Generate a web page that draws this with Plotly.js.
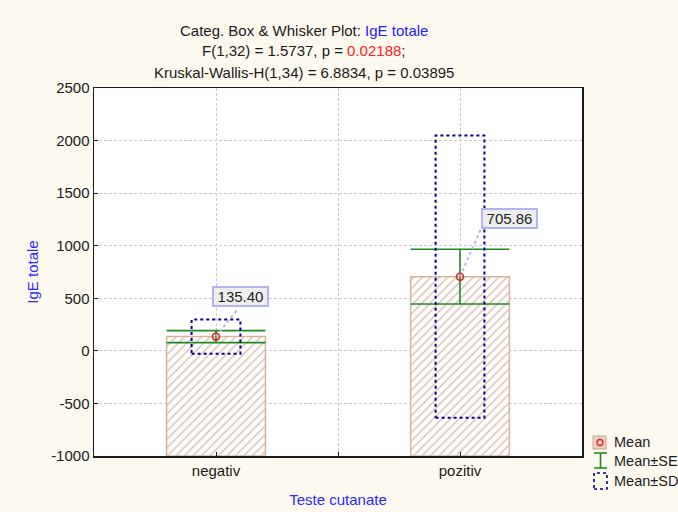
<!DOCTYPE html>
<html><head><meta charset="utf-8">
<script src="https://cdn.plot.ly/plotly-3.0.1.min.js"></script>
<style>html,body{margin:0;padding:0;background:#FEF9EF;}</style>
</head><body><div id="chart" style="width:678px;height:512px;"></div>
<script>
// ---- data ----
const categories = ['negativ', 'pozitiv'];
const catPositions = [0, 1];
const means = [135.40, 705.86];
const seValues = [57, 260];
const sdValues = [162, 1342];
const barBase = -1000;
const yTickValues = [-1000, -500, 0, 500, 1000, 1500, 2000, 2500];
const yTickText = ['-1000', '-500', '0', '500', '1000', '1500', '2000', '2500'];
const xTickValues = [0, 0.5, 1];
const xTickText = ['negativ', '', 'pozitiv'];
const titleLine1 = 'Categ. Box &amp; Whisker Plot: <span style="color:#2222FF">IgE totale</span>';
const titleLine2 = 'F(1,32) = 1.5737, p = <span style="color:#FF2020">0.02188</span>;';
const titleLine3 = 'Kruskal-Wallis-H(1,34) = 6.8834, p = 0.03895';
const yTitle = 'IgE totale';
const xTitle = 'Teste cutanate';
const legendNames = ['Mean', 'Mean±SE', 'Mean±SD'];

// ---- style / layout constants ----
const W = 678, H = 512;
const M = {l: 94, r: 96, t: 88, b: 56};
const plotW = W - M.l - M.r, plotH = H - M.t - M.b;
const xRange = [-0.5, 1.5];
const barWidth = 0.405;
const sdBoxHalf = 0.1;
const FONT = 'Liberation Sans, Arial, sans-serif';
const px2x = p => (p - M.l) / plotW;
const py2y = p => (H - M.b - p) / plotH;
const labelShift = [[24.5, 40], [49, 58]];
const connectorEnd = [[22, 28], [21, 48]];

const traces = [];
// bars from base to mean
traces.push({
  type: 'bar', x: catPositions, y: means.map(m => m - barBase), base: barBase,
  width: barWidth, showlegend: false, hoverinfo: 'skip',
  marker: {color: '#FFFFFF', line: {color: '#D6B49E', width: 1.5},
    pattern: {shape: '/', fgcolor: '#DBBBA8', bgcolor: '#FFFFFF', size: 6, solidity: 0.22}}
});
// Mean ± SE
const errHalfPx = barWidth / 2 * plotW / (xRange[1] - xRange[0]);
traces.push({
  type: 'scatter', mode: 'markers', x: catPositions, y: means, showlegend: false, hoverinfo: 'skip',
  marker: {size: 1, color: 'rgba(0,0,0,0)'},
  error_y: {type: 'data', array: seValues, visible: true, color: '#1E8C1E', thickness: 1.6, width: errHalfPx}
});
// Mean ± SD boxes
const sdX = [], sdY = [];
catPositions.forEach((c, i) => {
  const lo = means[i] - sdValues[i], hi = means[i] + sdValues[i];
  sdX.push(c - sdBoxHalf, c + sdBoxHalf, c + sdBoxHalf, c - sdBoxHalf, c - sdBoxHalf, null);
  sdY.push(lo, lo, hi, hi, lo, null);
});
traces.push({
  type: 'scatter', mode: 'lines', x: sdX, y: sdY, showlegend: false, hoverinfo: 'skip',
  line: {color: '#00008B', width: 2, dash: 'dot'}
});
// means
traces.push({
  type: 'scatter', mode: 'markers', x: catPositions, y: means, showlegend: false, hoverinfo: 'skip',
  marker: {symbol: 'circle-open', size: 7, color: '#E02020', line: {width: 1.5}}
});

const annotations = [];
const shapes = [];
// value labels + dotted connectors
catPositions.forEach((c, i) => {
  annotations.push({
    x: c, y: means[i], xref: 'x', yref: 'y', showarrow: false,
    xshift: labelShift[i][0], yshift: labelShift[i][1],
    text: means[i].toFixed(2), font: {family: FONT, size: 15, color: '#222'},
    bgcolor: '#EEEEEE', bordercolor: '#B4B4F2', borderwidth: 2, borderpad: 1,
    width: 51, height: 15
  });
  shapes.push({
    type: 'line', xref: 'x', yref: 'y', xsizemode: 'pixel', ysizemode: 'pixel',
    xanchor: c, yanchor: means[i], x0: 0, y0: 0, x1: connectorEnd[i][0], y1: connectorEnd[i][1],
    line: {color: '#B4B4F2', width: 2, dash: 'dot'}, layer: 'above'
  });
});
// title lines
[[titleLine1, 30.5], [titleLine2, 51], [titleLine3, 72]].forEach(([t, py]) => {
  annotations.push({xref: 'paper', yref: 'paper', x: px2x(304), y: py2y(py), xanchor: 'center', yanchor: 'middle',
    showarrow: false, text: t, font: {family: FONT, size: 15, color: '#1a1a1a'}});
});
// custom legend
shapes.push({type: 'rect', xref: 'paper', yref: 'paper', x0: px2x(593), x1: px2x(606), y0: py2y(449), y1: py2y(436),
  fillcolor: '#E9D3C5', line: {color: '#C9A58E', width: 1}});
shapes.push({type: 'circle', xref: 'paper', yref: 'paper', x0: px2x(597), x1: px2x(603), y0: py2y(445.5), y1: py2y(439.5),
  fillcolor: 'rgba(0,0,0,0)', line: {color: '#E02020', width: 1.3}});
shapes.push({type: 'line', xref: 'paper', yref: 'paper', x0: px2x(600.5), x1: px2x(600.5), y0: py2y(468), y1: py2y(453),
  line: {color: '#1E8C1E', width: 1.6}});
shapes.push({type: 'line', xref: 'paper', yref: 'paper', x0: px2x(594), x1: px2x(607), y0: py2y(453), y1: py2y(453),
  line: {color: '#1E8C1E', width: 1.6}});
shapes.push({type: 'line', xref: 'paper', yref: 'paper', x0: px2x(594), x1: px2x(607), y0: py2y(468), y1: py2y(468),
  line: {color: '#1E8C1E', width: 1.6}});
shapes.push({type: 'rect', xref: 'paper', yref: 'paper', x0: px2x(594), x1: px2x(607), y0: py2y(489), y1: py2y(473),
  fillcolor: 'rgba(0,0,0,0)', line: {color: '#00008B', width: 1.6, dash: 'dot'}});
[[legendNames[0], 442], [legendNames[1], 460.5], [legendNames[2], 480.5]].forEach(([t, py]) => {
  annotations.push({xref: 'paper', yref: 'paper', x: px2x(612), y: py2y(py), xanchor: 'left', yanchor: 'middle',
    showarrow: false, text: t, font: {family: FONT, size: 14.5, color: '#1a1a1a'}});
});

const axisCommon = {
  showline: true, mirror: true, linecolor: '#1a1a1a', linewidth: 1.5,
  ticks: 'inside', ticklen: 4, tickcolor: '#1a1a1a', tickwidth: 1,
  showgrid: true, gridcolor: '#CACACA', griddash: '3px,2px', gridwidth: 1,
  zeroline: false, tickfont: {family: FONT, size: 15, color: '#1a1a1a'}, fixedrange: true
};
const layout = {
  width: W, height: H, margin: M, paper_bgcolor: '#FEF9EF', plot_bgcolor: '#FFFFFF',
  font: {family: FONT},
  showlegend: false,
  xaxis: Object.assign({}, axisCommon, {range: xRange, tickmode: 'array', tickvals: xTickValues, ticktext: xTickText,
    title: {text: xTitle, font: {family: FONT, size: 15, color: '#2A2AFF'}, standoff: 17}}),
  yaxis: Object.assign({}, axisCommon, {range: [-1000, 2500], tickmode: 'array', tickvals: yTickValues, ticktext: yTickText,
    title: {text: yTitle, font: {family: FONT, size: 15, color: '#2A2AFF'}, standoff: 9}}),
  annotations: annotations, shapes: shapes
};
Plotly.newPlot('chart', traces, layout, {displayModeBar: false, staticPlot: true});
</script></body></html>
